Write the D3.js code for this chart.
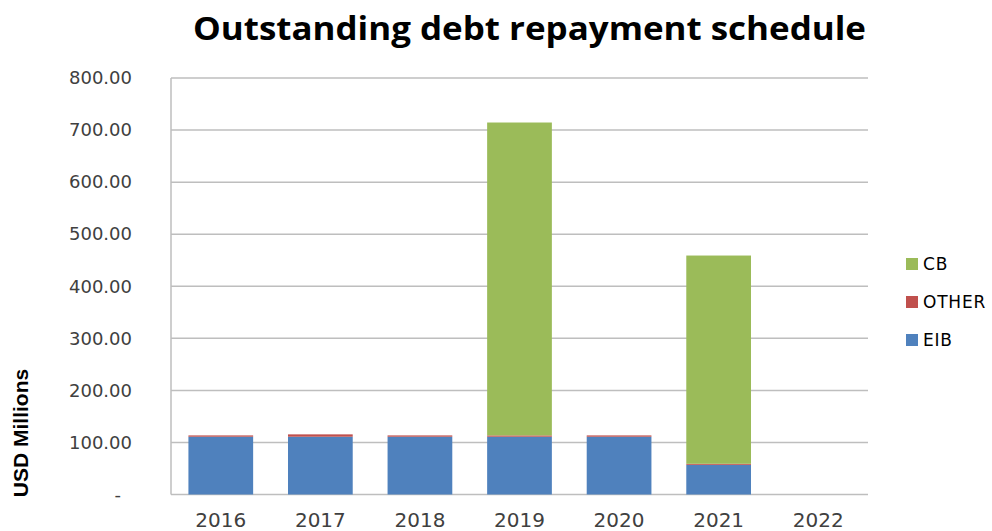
<!DOCTYPE html>
<html>
<head>
<meta charset="utf-8">
<script src="https://cdn.jsdelivr.net/npm/d3@7"></script>
<style>
  html, body { margin: 0; padding: 0; background: #fff; }
  svg { display: block; }
</style>
</head>
<body>
<svg id="chart" width="992" height="531"></svg>
<script>
// Repayment schedule, USD millions
const years = ["2016", "2017", "2018", "2019", "2020", "2021", "2022"];
const eib   = [111, 111, 111, 111, 111, 57, 0];
const other = [2.5, 4.5, 2.5, 2.5, 2.5, 2, 0];
const cb    = [0, 0, 0, 601, 0, 400, 0];
const yTicks = [0, 100, 200, 300, 400, 500, 600, 700, 800];
const seriesNames = ["EIB", "OTHER", "CB"];
const seriesColors = ["#4F81BD", "#C0504D", "#9BBB59"];

const svg = d3.select("#chart");
const plot = { left: 171, right: 868, top: 78, bottom: 494.5 };

const rows = years.map((y, i) => ({ year: y, EIB: eib[i], OTHER: other[i], CB: cb[i] }));
const stacked = d3.stack().keys(seriesNames)(rows);

const x = d3.scaleBand()
  .domain(years)
  .range([plot.left, plot.right])
  .paddingInner(0.35)
  .paddingOuter(0.175);

const y = d3.scaleLinear()
  .domain([0, 800])
  .range([plot.bottom, plot.top]);

const color = d3.scaleOrdinal().domain(seriesNames).range(seriesColors);

// Title
svg.append("text")
  .attr("x", 529.5)
  .attr("y", 40)
  .attr("text-anchor", "middle")
  .attr("textLength", 673)
  .attr("lengthAdjust", "spacingAndGlyphs")
  .style("font-family", "'Open Sans', sans-serif")
  .style("font-weight", "bold")
  .style("font-size", "32px")
  .style("fill", "#000")
  .text("Outstanding debt repayment schedule");

// Horizontal gridlines
svg.append("g")
  .selectAll("line")
  .data(yTicks)
  .join("line")
  .attr("x1", plot.left)
  .attr("x2", plot.right)
  .attr("y1", d => y(d))
  .attr("y2", d => y(d))
  .attr("stroke", "#BEBEBE")
  .attr("stroke-width", 1.5);

// Left axis line
svg.append("line")
  .attr("x1", plot.left).attr("x2", plot.left)
  .attr("y1", plot.top).attr("y2", plot.bottom)
  .attr("stroke", "#BEBEBE").attr("stroke-width", 1.5);

// Y axis labels
const yAxis = svg.append("g")
  .attr("transform", `translate(${plot.left},0)`)
  .call(d3.axisLeft(y)
    .tickValues(yTicks)
    .tickSize(0)
    .tickPadding(39)
    .tickFormat(d => d === 0 ? "-" : d3.format(".2f")(d)));
yAxis.select(".domain").remove();
yAxis.selectAll("text")
  .style("font-family", "'DejaVu Sans', sans-serif")
  .style("font-size", "18px")
  .style("fill", "#404040")
  .attr("x", d => d === 0 ? -50 : -39);

// X axis labels
const xAxis = svg.append("g")
  .attr("transform", `translate(0,${plot.bottom})`)
  .call(d3.axisBottom(x).tickSize(0).tickPadding(18));
xAxis.select(".domain").remove();
xAxis.selectAll("text")
  .style("font-family", "'DejaVu Sans', sans-serif")
  .style("font-size", "20px")
  .style("fill", "#404040");

// Stacked bars
svg.append("g")
  .selectAll("g")
  .data(stacked)
  .join("g")
  .attr("fill", d => color(d.key))
  .selectAll("rect")
  .data(d => d)
  .join("rect")
  .attr("x", d => x(d.data.year))
  .attr("width", x.bandwidth())
  .attr("y", d => y(d[1]))
  .attr("height", d => y(d[0]) - y(d[1]));

// Y axis title
svg.append("text")
  .attr("transform", "translate(28,433) rotate(-90)")
  .attr("text-anchor", "middle")
  .style("font-family", "'Liberation Sans', Arial, sans-serif")
  .style("font-weight", "bold")
  .style("font-size", "21px")
  .style("fill", "#000")
  .text("USD Millions");

// Legend (CB on top, EIB at bottom)
const legendItems = seriesNames.slice().reverse();
const legend = svg.append("g")
  .selectAll("g")
  .data(legendItems)
  .join("g")
  .attr("transform", (d, i) => `translate(906,${264 + i * 38})`);
legend.append("rect")
  .attr("x", 0).attr("y", -6)
  .attr("width", 12).attr("height", 12)
  .attr("fill", d => color(d));
legend.append("text")
  .attr("x", 17)
  .attr("y", 6)
  .style("font-family", "'DejaVu Sans', sans-serif")
  .style("font-size", "17px")
  .style("letter-spacing", "0.8px")
  .style("fill", "#000")
  .text(d => d);
</script>
</body>
</html>
